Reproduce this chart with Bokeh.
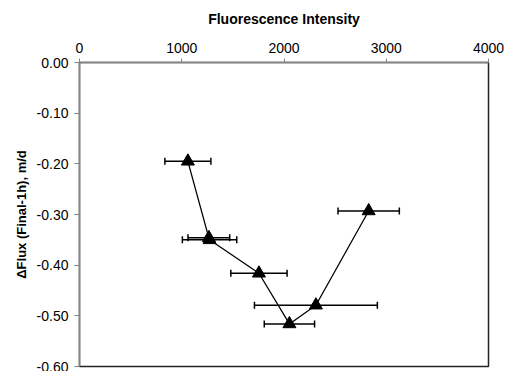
from bokeh.plotting import figure
from bokeh.models import ColumnDataSource, Whisker, TeeHead, FixedTicker, NumeralTickFormatter, Range1d
from bokeh.embed import file_html
from bokeh.resources import INLINE

# data
intensity = [1060, 1265, 1272, 1755, 2053, 2312, 2828]
delta_flux = [-0.195, -0.346, -0.350, -0.416, -0.516, -0.479, -0.293]
intensity_err = [225, 204, 266, 275, 246, 601, 300]
x_ticks = [0, 1000, 2000, 3000, 4000]
y_ticks = [0.0, -0.1, -0.2, -0.3, -0.4, -0.5, -0.6]

lo = [x - e for x, e in zip(intensity, intensity_err)]
hi = [x + e for x, e in zip(intensity, intensity_err)]
src = ColumnDataSource(dict(x=intensity, y=delta_flux, lo=lo, hi=hi))

FONT = "Liberation Sans"

p = figure(width=506, height=371, output_backend="svg", toolbar_location=None,
           x_axis_location="above", x_range=Range1d(0, 4000), y_range=Range1d(-0.6, 0.0),
           min_border_left=79, min_border_right=18, min_border_top=62, min_border_bottom=5)
p.xgrid.visible = False
p.ygrid.visible = False
p.outline_line_color = "#222222"
p.outline_line_width = 1.5

xa = p.xaxis[0]
ya = p.yaxis[0]
xa.ticker = FixedTicker(ticks=x_ticks)
ya.ticker = FixedTicker(ticks=y_ticks)
xa.formatter = NumeralTickFormatter(format="0")
ya.formatter = NumeralTickFormatter(format="0.00")
xa.axis_label = "Fluorescence Intensity"
ya.axis_label = "ΔFlux (Final-1h), m/d"
for ax in (xa, ya):
    ax.axis_line_color = "#868686"
    ax.axis_line_width = 1.5
    ax.major_tick_line_color = "#868686"
    ax.major_tick_line_width = 1
    ax.major_tick_in = 0
    ax.major_tick_out = 5
    ax.minor_tick_line_color = None
    ax.major_label_text_font = FONT
    ax.major_label_text_font_size = "14px"
    ax.major_label_text_color = "#000000"
    ax.axis_label_text_font = FONT
    ax.axis_label_text_font_style = "bold"
    ax.axis_label_text_color = "#000000"
xa.axis_label_text_font_size = "14px"
ya.axis_label_text_font_size = "13px"
xa.major_tick_out = 4
xa.major_label_standoff = 6
xa.axis_label_standoff = 13
ya.major_label_standoff = 6
ya.axis_label_standoff = 5

w = Whisker(source=src, base="y", lower="lo", upper="hi", dimension="width",
            line_color="black", line_width=1.5,
            lower_head=TeeHead(size=7, line_color="black", line_width=1.5),
            upper_head=TeeHead(size=7, line_color="black", line_width=1.5))
p.add_layout(w)

p.line("x", "y", source=src, line_color="black", line_width=1.3)
p.scatter("x", "y", source=src, marker="triangle", size=13, fill_color="black", line_color="black")

open("out.html", "w").write(file_html(p, INLINE))
